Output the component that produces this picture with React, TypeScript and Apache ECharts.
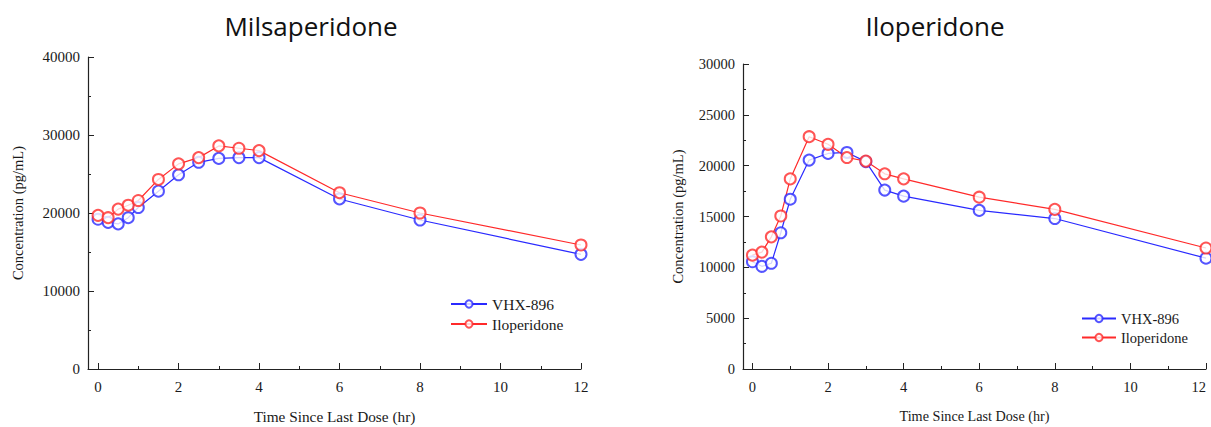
import React, { useEffect, useRef } from "react";
import * as echarts from "echarts";

const times = [0, 0.25, 0.5, 0.75, 1, 1.5, 2, 2.5, 3, 3.5, 4, 6, 8, 12];

const milsVHX = [19200, 18800, 18600, 19400, 20700, 22800, 24900, 26500, 27000, 27100, 27100, 21800, 19100, 14700];
const milsIlo = [19700, 19400, 20500, 21000, 21600, 24300, 26300, 27100, 28600, 28300, 28000, 22600, 20000, 15900];

const iloVHX = [10550, 10100, 10400, 13400, 16700, 20550, 21200, 21300, 20400, 17600, 17000, 15600, 14800, 10900];
const iloIlo = [11200, 11500, 13000, 15050, 18700, 22850, 22100, 20800, 20450, 19200, 18700, 16900, 15700, 11900];

const majorXTicks = [0, 2, 4, 6, 8, 10, 12];
const minorXTicks = [1, 3, 5, 7, 9, 11];

const titles = ["Milsaperidone", "Iloperidone"];
const seriesNames = ["VHX-896", "Iloperidone"];

const BLUE = "#2a2aff";
const RED = "#ff2a2a";
const SERIF = "Liberation Serif, Times New Roman, serif";
const TXT = "#1a1a1a";

const pair = (xs: number[], ys: number[]) => xs.map((x, i) => [x, ys[i]]);

export default function App() {
  const ref = useRef<HTMLDivElement>(null);
  useEffect(() => {
    document.body.style.margin = "0";
    const chart = echarts.init(ref.current!, null, { renderer: "svg" });

    const fonts = [
      { tick: 15, xname: 15.3, yname: 14.5, legend: 15.5 },
      { tick: 14.5, xname: 14.2, yname: 14.5, legend: 14.5 },
    ];
    const grids = [
      { left: 88, top: 57, width: 493, height: 312, outerBoundsMode: "none", containLabel: false },
      { left: 743, top: 64, width: 463, height: 305, outerBoundsMode: "none", containLabel: false },
    ];
    const yMax = [40000, 30000];
    const yInt = [10000, 5000];
    const yNameGap = [63, 58];

    const xAxis: any[] = [];
    const yAxis: any[] = [];
    grids.forEach((g, i) => {
      const f = fonts[i];
      xAxis.push({
        type: "value",
        gridIndex: i,
        min: -0.25,
        max: 12,
        name: "Time Since Last Dose (hr)",
        nameLocation: "middle",
        nameGap: 40,
        nameTextStyle: { fontFamily: SERIF, fontSize: f.xname, color: TXT },
        axisLine: { show: true, onZero: false, lineStyle: { color: "#222", width: 1.2 } },
        axisTick: { show: true, inside: true, length: 6, customValues: majorXTicks, lineStyle: { color: "#222" } },
        axisLabel: {
          show: true,
          customValues: majorXTicks,
          margin: 10,
          fontFamily: SERIF,
          fontSize: f.tick,
          color: TXT,
          alignMaxLabel: i === 1 ? "right" : undefined,
        },
        splitLine: { show: false },
      });
      xAxis.push({
        type: "value",
        gridIndex: i,
        min: -0.25,
        max: 12,
        position: "bottom",
        axisLine: { show: false, onZero: false },
        axisTick: { show: true, inside: true, length: 3, customValues: minorXTicks, lineStyle: { color: "#222" } },
        axisLabel: { show: false },
        splitLine: { show: false },
      });
      yAxis.push({
        type: "value",
        gridIndex: i,
        min: 0,
        max: yMax[i],
        interval: yInt[i],
        name: "Concentration (pg/mL)",
        nameLocation: "middle",
        nameGap: yNameGap[i],
        nameTextStyle: { fontFamily: SERIF, fontSize: f.yname, color: TXT },
        axisLine: { show: true, onZero: false, lineStyle: { color: "#222", width: 1.2 } },
        axisTick: { show: true, inside: true, length: 6, lineStyle: { color: "#222" } },
        minorTick: { show: true, splitNumber: 2, length: 3, lineStyle: { color: "#222" } },
        axisLabel: { margin: 8, fontFamily: SERIF, fontSize: f.tick, color: TXT, formatter: (v: number) => String(v) },
        splitLine: { show: false },
        minorSplitLine: { show: false },
      });
    });

    const mk = (name: string, color: string, data: number[][], gi: number) => ({
      type: "line",
      name,
      xAxisIndex: gi * 2,
      yAxisIndex: gi,
      data,
      symbol: "emptyCircle",
      symbolSize: 11,
      color,
      itemStyle: { color, borderColor: color, borderWidth: 1.1, opacity: 0.8 },
      lineStyle: { color, width: 1.2 },
      showSymbol: true,
    });

    const series = [
      mk(seriesNames[0], BLUE, pair(times, milsVHX), 0),
      mk(seriesNames[1], RED, pair(times, milsIlo), 0),
      mk(seriesNames[0] + " ", BLUE, pair(times, iloVHX), 1),
      mk(seriesNames[1] + " ", RED, pair(times, iloIlo), 1),
    ];

    chart.setOption({
      animation: false,
      backgroundColor: "#ffffff",
      grid: grids,
      xAxis,
      yAxis,
      series,
      legend: [
        {
          data: [seriesNames[0], seriesNames[1]],
          orient: "vertical",
          left: 445,
          top: 291,
          itemWidth: 36,
          itemHeight: 9,
          itemGap: 4,
          textStyle: { fontFamily: SERIF, fontSize: fonts[0].legend, color: TXT, lineHeight: 16 },
        },
        {
          data: [seriesNames[0] + " ", seriesNames[1] + " "],
          orient: "vertical",
          left: 1076,
          top: 306,
          itemWidth: 34,
          itemHeight: 9,
          itemGap: 4,
          textStyle: { fontFamily: SERIF, fontSize: fonts[1].legend, color: TXT, lineHeight: 15 },
        },
      ],
      graphic: [
        {
          type: "text",
          x: 311,
          y: 26,
          style: { text: titles[0], textAlign: "center", textVerticalAlign: "middle", font: "26px 'Open Sans', sans-serif", fill: "#111" },
        },
        {
          type: "text",
          x: 935,
          y: 26,
          style: { text: titles[1], textAlign: "center", textVerticalAlign: "middle", font: "26px 'Open Sans', sans-serif", fill: "#111" },
        },
      ],
    });
    return () => chart.dispose();
  }, []);
  return <div ref={ref} style={{ width: 1211, height: 427, position: "absolute", left: 0, top: 0 }} />;
}
